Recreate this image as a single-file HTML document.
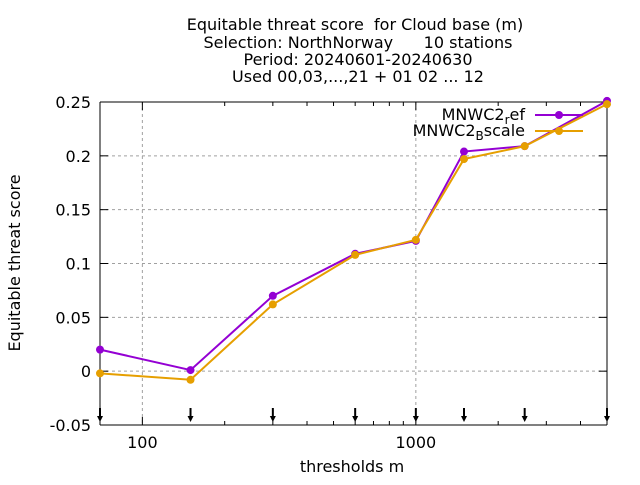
<!DOCTYPE html>
<html><head><meta charset="utf-8"><style>
body{margin:0;background:#fff;}
svg text{font-family:"DejaVu Sans","Liberation Sans",sans-serif;font-size:16px;fill:#000;white-space:pre;}
</style></head><body>
<svg id="chart" width="640" height="480" xmlns="http://www.w3.org/2000/svg" xml:space="preserve">
<g text-anchor="middle">
<text x="355" y="30">Equitable threat score  for Cloud base (m)</text>
<text x="358" y="48">Selection: NorthNorway      10 stations</text>
<text x="358" y="65">Period: 20240601-20240630</text>
<text x="358" y="82">Used 00,03,...,21 + 01 02 ... 12</text>
</g>
<text transform="translate(20,263) rotate(-90)" text-anchor="middle">Equitable threat score</text>
<text x="352" y="472" text-anchor="middle">thresholds m</text>
<g id="grid"></g>
<g id="axes"></g>
<g id="series"></g>
<g id="legend"></g>
</svg>
<script>
const thresholds=[70,150,300,600,1000,1500,2500,5000];
const refValues=[0.020,0.001,0.070,0.109,0.121,0.204,0.209,0.251];
const bscaleValues=[-0.002,-0.008,0.062,0.108,0.122,0.197,0.209,0.248];
const yTicks=[-0.05,0,0.05,0.1,0.15,0.2,0.25];
const yTickLabels=["-0.05","0","0.05","0.1","0.15","0.2","0.25"];
const xMajor=[100,1000];
const xMinor=[200,300,400,500,600,700,800,900,2000,3000,4000,5000];

const L=100,R=607,T=102,B=425,xMin=70,xMax=5000,yMin=-0.05,yMax=0.25;
const NS="http://www.w3.org/2000/svg";
function X(v){return L+(Math.log10(v)-Math.log10(xMin))/(Math.log10(xMax)-Math.log10(xMin))*(R-L);}
function Y(v){return B-(v-yMin)/(yMax-yMin)*(B-T);}
function mk(tag,attrs,parent){const e=document.createElementNS(NS,tag);for(const k in attrs)e.setAttribute(k,attrs[k]);parent.appendChild(e);return e;}
const grid=document.getElementById('grid'),axes=document.getElementById('axes'),series=document.getElementById('series'),legend=document.getElementById('legend');

yTicks.forEach((v,i)=>{
  const y=Y(v);
  if(v>yMin&&v<yMax){const g=mk('line',{x1:L,x2:R,y1:y,y2:y,stroke:'#a0a0a0','stroke-dasharray':'3,3','stroke-width':1},grid);
  
  }
  mk('line',{x1:L,x2:L+8,y1:y,y2:y,stroke:'#000'},axes);
  mk('line',{x1:R,x2:R-8,y1:y,y2:y,stroke:'#000'},axes);
  const t=mk('text',{x:L-9,y:y+6,'text-anchor':'end'},axes);t.textContent=yTickLabels[i];
  
  
});
xMajor.forEach(v=>{
  const x=X(v);
  const g=mk('line',{x1:x,x2:x,y1:T,y2:B,stroke:'#a0a0a0','stroke-dasharray':'3,3'},grid);
  
  
  mk('line',{x1:x,x2:x,y1:B,y2:B-8,stroke:'#000'},axes);
  mk('line',{x1:x,x2:x,y1:T,y2:T+8,stroke:'#000'},axes);
  const t=mk('text',{x:x,y:B+23,'text-anchor':'middle'},axes);t.textContent=String(v);
  
  
});
xMinor.forEach(v=>{const x=X(v);
  mk('line',{x1:x,x2:x,y1:B,y2:B-4,stroke:'#000'},axes);
  mk('line',{x1:x,x2:x,y1:T,y2:T+4,stroke:'#000'},axes);});
[[L,T,R,T],[L,B,R,B],[L,T,L,B],[R,T,R,B]].forEach(a=>mk('line',{x1:a[0],y1:a[1],x2:a[2],y2:a[3],stroke:'#000','stroke-width':1},axes));
thresholds.forEach(v=>{const x=X(v);
  const a=mk('g',{},axes);
  
  
  mk('line',{x1:x,x2:x,y1:408,y2:418,stroke:'#000','stroke-width':2},a);
  mk('path',{d:`M${x-3},416 L${x+3},416 L${x},422 Z`,fill:'#000'},a);});

function drawSeries(vals,color,name){
  const g=mk('g',{},series);
  
  
  mk('polyline',{points:thresholds.map((t,i)=>X(t)+','+Y(vals[i])).join(' '),fill:'none',stroke:color,'stroke-width':2},g);
  thresholds.forEach((t,i)=>{const c=mk('circle',{cx:X(t),cy:Y(vals[i]),r:4,fill:color},g);
    
    });
}
drawSeries(refValues,'#9400d3','series-mnwc2-ref');
drawSeries(bscaleValues,'#e69f00','series-mnwc2-bscale');

function legendEntry(y,color,base,sub,rest,name){
  const g=mk('g',{},legend);
  
  
  const t=mk('text',{x:525,y:y+5,'text-anchor':'end'},g);
  t.innerHTML=base+'<tspan dy="4" font-size="12">'+sub+'</tspan><tspan dy="-4">'+rest+'</tspan>';
  mk('line',{x1:535,x2:583,y1:y,y2:y,stroke:color,'stroke-width':2},g);
  mk('circle',{cx:559,cy:y,r:4,fill:color},g);
}
legendEntry(115,'#9400d3','MNWC2','r','ef','legend-mnwc2-ref');
legendEntry(131,'#e69f00','MNWC2','B','scale','legend-mnwc2-bscale');
</script>
</body></html>
